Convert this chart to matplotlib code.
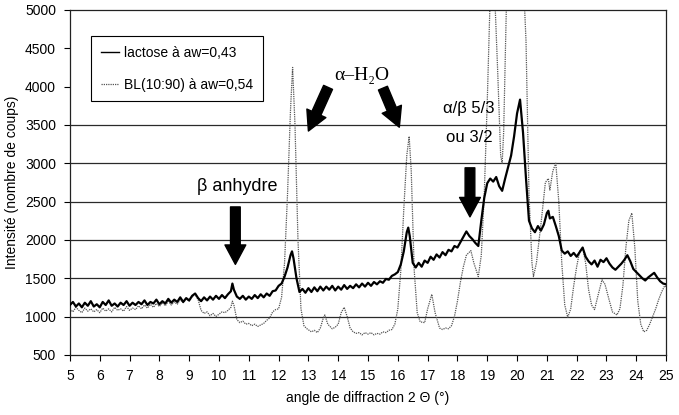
import numpy as np
import matplotlib
matplotlib.use("Agg")
from matplotlib import pyplot as plt

plt.rcParams['font.family'] = ['Liberation Sans', 'DejaVu Sans']

# lactose a aw=0,43 (courbe noire)
lact_x = [5.0, 5.1, 5.2, 5.3, 5.4, 5.5, 5.6, 5.7, 5.8, 5.9,
          6.0, 6.1, 6.2, 6.3, 6.4, 6.5, 6.6, 6.7, 6.8, 6.9,
          7.0, 7.1, 7.2, 7.3, 7.4, 7.5, 7.6, 7.7, 7.8, 7.9,
          8.0, 8.1, 8.2, 8.3, 8.4, 8.5, 8.6, 8.7, 8.8, 8.9,
          9.0, 9.1, 9.2, 9.3, 9.4, 9.5, 9.6, 9.7, 9.8, 9.9,
          10.0, 10.1, 10.2, 10.3, 10.4, 10.45, 10.5, 10.6, 10.7, 10.8, 10.9,
          11.0, 11.1, 11.2, 11.3, 11.4, 11.5, 11.6, 11.7, 11.8, 11.9,
          12.0, 12.1, 12.2, 12.3, 12.4, 12.45, 12.5, 12.6, 12.7, 12.8, 12.9,
          13.0, 13.1, 13.2, 13.3, 13.4, 13.5, 13.6, 13.7, 13.8, 13.9,
          14.0, 14.1, 14.2, 14.3, 14.4, 14.5, 14.6, 14.7, 14.8, 14.9,
          15.0, 15.1, 15.2, 15.3, 15.4, 15.5, 15.6, 15.7, 15.8, 15.9,
          16.0, 16.1, 16.2, 16.3, 16.35, 16.4, 16.5, 16.6, 16.7, 16.8, 16.9,
          17.0, 17.1, 17.2, 17.3, 17.4, 17.5, 17.6, 17.7, 17.8, 17.9,
          18.0, 18.1, 18.2, 18.3, 18.4, 18.5, 18.6, 18.7, 18.8, 18.9,
          19.0, 19.1, 19.2, 19.3, 19.4, 19.5, 19.6, 19.7, 19.8, 19.9,
          20.0, 20.1, 20.2, 20.3, 20.4, 20.5, 20.6, 20.7, 20.8, 20.9,
          21.0, 21.05, 21.1, 21.2, 21.3, 21.4, 21.5, 21.6, 21.7, 21.8, 21.9,
          22.0, 22.1, 22.2, 22.3, 22.4, 22.5, 22.6, 22.7, 22.8, 22.9,
          23.0, 23.1, 23.2, 23.3, 23.4, 23.5, 23.6, 23.7, 23.8, 23.9,
          24.0, 24.1, 24.2, 24.3, 24.4, 24.5, 24.6, 24.7, 24.8, 24.9, 25.0]
lact_y = [1150, 1190, 1130, 1170, 1120, 1180, 1140, 1200, 1130, 1160,
          1120, 1190, 1150, 1210, 1140, 1170, 1130, 1180, 1150, 1200,
          1140, 1180, 1150, 1190, 1160, 1210, 1150, 1190, 1170, 1220,
          1160, 1200, 1170, 1230, 1180, 1220, 1190, 1250, 1190, 1240,
          1210, 1270, 1300, 1240, 1200, 1250, 1210, 1260, 1220, 1270,
          1230, 1280, 1240, 1290, 1330, 1430, 1350, 1260, 1230, 1270, 1220,
          1260, 1230, 1280, 1240, 1290, 1250, 1300, 1270, 1330, 1340,
          1400, 1430, 1520, 1640, 1800, 1850, 1760, 1500, 1320, 1360, 1310,
          1370, 1320, 1380, 1330, 1390, 1340, 1390, 1350, 1400, 1340,
          1390, 1350, 1410, 1360, 1400, 1370, 1420, 1380, 1430, 1390,
          1440, 1400, 1450, 1420, 1460, 1440, 1490, 1480, 1530, 1550,
          1580, 1680, 1850, 2100, 2160, 2050, 1700, 1640, 1700, 1650, 1730,
          1700, 1780, 1740, 1810, 1770, 1840, 1800, 1870, 1850, 1920,
          1900, 1970, 2040, 2110, 2050, 2010, 1960, 1920, 2250, 2550,
          2740, 2800, 2760, 2820, 2700, 2640, 2800, 2950, 3100, 3350,
          3650, 3830, 3400, 2800, 2250, 2150, 2100, 2180, 2120, 2200,
          2350, 2380, 2280, 2300, 2180, 2050, 1860, 1820, 1850, 1790, 1830,
          1780, 1840, 1900, 1780, 1720, 1680, 1730, 1650, 1740, 1710,
          1760, 1690, 1640, 1610, 1650, 1690, 1740, 1800, 1720, 1620,
          1580, 1540, 1500, 1470, 1510, 1540, 1570, 1510, 1460, 1430, 1420]

# BL(10:90) a aw=0,54 (courbe grise pointillee)
bl_x = [5.0, 5.1, 5.2, 5.3, 5.4, 5.5, 5.6, 5.7, 5.8, 5.9,
        6.0, 6.1, 6.2, 6.3, 6.4, 6.5, 6.6, 6.7, 6.8, 6.9,
        7.0, 7.1, 7.2, 7.3, 7.4, 7.5, 7.6, 7.7, 7.8, 7.9,
        8.0, 8.1, 8.2, 8.3, 8.4, 8.5, 8.6, 8.7, 8.8, 8.9,
        9.0, 9.1, 9.2, 9.3, 9.4, 9.5, 9.6, 9.7, 9.8, 9.9,
        10.0, 10.1, 10.2, 10.3, 10.4, 10.45, 10.5, 10.6, 10.7, 10.8, 10.9,
        11.0, 11.1, 11.2, 11.3, 11.4, 11.5, 11.6, 11.7, 11.8, 11.9,
        12.0, 12.1, 12.2, 12.3, 12.4, 12.47, 12.55, 12.65, 12.75, 12.85, 12.95,
        13.1, 13.2, 13.3, 13.4, 13.5, 13.55, 13.65, 13.8, 13.9,
        14.0, 14.1, 14.2, 14.3, 14.4, 14.5, 14.6, 14.7, 14.8, 14.9,
        15.0, 15.1, 15.2, 15.3, 15.4, 15.5, 15.6, 15.7, 15.8, 15.9,
        16.0, 16.1, 16.2, 16.3, 16.38, 16.45, 16.55, 16.65, 16.75, 16.9,
        17.0, 17.14, 17.25, 17.4, 17.5, 17.6, 17.7, 17.8, 17.9,
        18.0, 18.1, 18.2, 18.3, 18.45, 18.55, 18.7, 18.8, 18.9,
        19.0, 19.1, 19.2, 19.35, 19.45, 19.5, 19.55, 19.65, 19.8,
        20.0, 20.2, 20.3, 20.4, 20.5, 20.55, 20.65, 20.8, 20.95,
        21.05, 21.1, 21.2, 21.3, 21.4, 21.5, 21.6, 21.7, 21.8, 21.9,
        22.0, 22.1, 22.2, 22.3, 22.4, 22.5, 22.6, 22.7, 22.85, 22.95,
        23.1, 23.2, 23.35, 23.45, 23.55, 23.65, 23.75, 23.85, 23.95,
        24.05, 24.15, 24.25, 24.35, 24.45, 24.55, 24.65, 24.75, 24.85, 24.95, 25.0]
bl_y = [1100, 1060, 1120, 1080, 1050, 1110, 1070, 1100, 1060, 1090,
        1050, 1110, 1070, 1100, 1060, 1120, 1080, 1100, 1070, 1130,
        1080, 1110, 1090, 1140, 1100, 1150, 1110, 1160, 1120, 1170,
        1130, 1180, 1140, 1200, 1150, 1190, 1160, 1220, 1180, 1230,
        1200, 1260, 1290, 1220, 1080, 1040, 1060, 1010, 1040, 1000,
        1030, 1060, 1050, 1080, 1120, 1200, 1150, 960, 920, 940, 900,
        910, 880, 900, 870, 890, 910, 950, 980, 1060, 1090,
        1100, 1250, 1700, 2600, 3700, 4250, 3500, 2000, 1100, 880, 840,
        800, 820, 790, 850, 980, 1020, 900, 840, 860,
        900, 1050, 1120, 1000, 850, 800, 780, 790, 760, 790,
        770, 790, 760, 780, 770, 800, 790, 820, 830, 900,
        1100, 1600, 2400, 3100, 3350, 2900, 1600, 1050, 930, 920,
        1100, 1290, 1050, 850, 830, 850, 840, 880, 1000,
        1200, 1450, 1650, 1800, 1860, 1700, 1520, 1800, 2600,
        3800, 5200, 5700, 4200, 3100, 3000, 3400, 5200, 5800,
        5800, 5500, 4600, 2600, 1700, 1520, 1700, 2200, 2750,
        2800, 2650, 2900, 3000, 2500, 1700, 1150, 990, 1100, 1400,
        1650, 1850, 1900, 1700, 1350, 1150, 1090, 1250, 1480, 1420,
        1200, 1060, 1020, 1100, 1400, 1900, 2250, 2350, 1900,
        1200, 900, 800, 820, 900, 1000, 1100, 1220, 1320, 1400, 1390]

x_ticks = list(range(5, 26))
y_ticks = list(range(500, 5001, 500))
grid_vals = [1000, 1500, 2000, 2500, 3000, 3500]

fig = plt.figure(figsize=(6.79, 4.15), dpi=100)
ax = fig.add_axes([0.103, 0.145, 0.878, 0.831])

ax.hlines(grid_vals, 5, 25, colors='#2a2a2a', linewidth=0.9, zorder=1)

ax.plot(bl_x, bl_y, color='#555555', linestyle=(0, (1, 0.8)), linewidth=0.9,
        label='BL(10:90) à aw=0,54', zorder=2)
ax.plot(lact_x, lact_y, color='black', linewidth=1.6,
        label='lactose à aw=0,43', zorder=3)

ax.set_xlim(5, 25)
ax.set_ylim(500, 5000)
ax.set_xticks(x_ticks)
ax.set_yticks(y_ticks)
ax.tick_params(direction='out', length=4, width=0.8, labelsize=10, pad=6)
for s in ax.spines.values():
    s.set_linewidth(0.9)
    s.set_color('#222222')

ax.set_xlabel('angle de diffraction 2 Θ (°)', fontsize=10, labelpad=6)
ax.set_ylabel('Intensité (nombre de coups)', fontsize=10, labelpad=4)

# legende : lactose d'abord
h, l = ax.get_legend_handles_labels()
leg = ax.legend(h[::-1], l[::-1], loc='upper left', bbox_to_anchor=(0.035, 0.925),
                fontsize=10, frameon=True, fancybox=False, edgecolor='black',
                framealpha=1, handlelength=1.3, handletextpad=0.4,
                labelspacing=1.3, borderpad=0.7, borderaxespad=0)
leg.get_frame().set_linewidth(0.8)
leg.get_lines()[0].set_linewidth(1.0)

# annotations
arrow = dict(facecolor='black', edgecolor='black', width=7, headwidth=15,
             headlength=14, shrink=0)
ax.text(10.62, 2700, 'β anhydre', fontsize=13, ha='center', va='center')
ax.annotate('', xy=(10.55, 1680), xytext=(10.55, 2430), arrowprops=arrow)

ax.text(14.8, 4150, 'α–H₂O', fontsize=14, ha='center', va='center',
        family=['Liberation Serif', 'DejaVu Serif'])
ax.annotate('', xy=(13.0, 3420), xytext=(13.66, 3990), arrowprops=arrow)
ax.annotate('', xy=(16.05, 3470), xytext=(15.5, 3980), arrowprops=arrow)

ax.text(18.38, 3710, 'α/β 5/3', fontsize=12, ha='center', va='center')
ax.text(18.4, 3340, 'ou 3/2', fontsize=12, ha='center', va='center')
ax.annotate('', xy=(18.42, 2300), xytext=(18.42, 2940), arrowprops=arrow)

fig.savefig('out.png', dpi=100)
